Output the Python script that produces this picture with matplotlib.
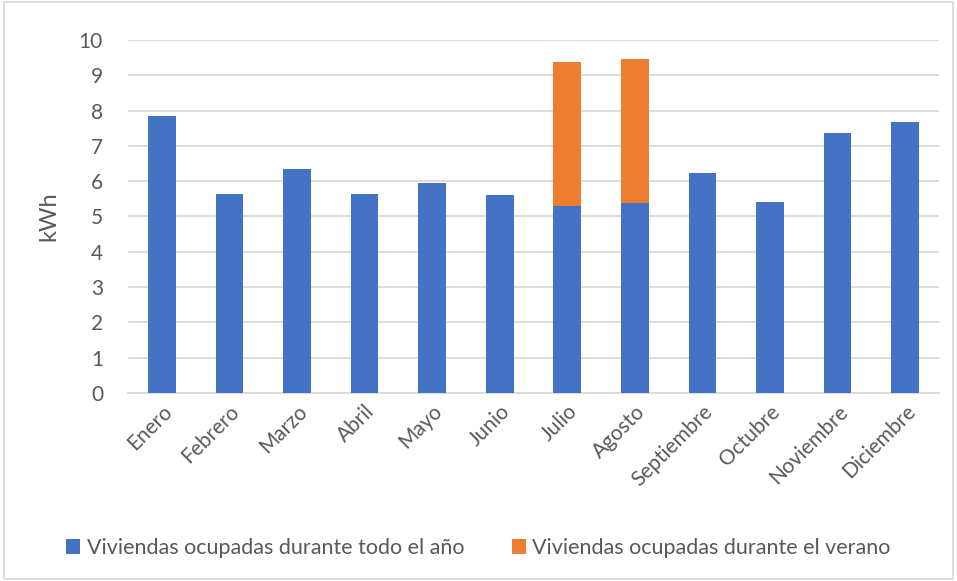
import numpy as np
import matplotlib as mpl
import matplotlib.pyplot as plt

meses = ["Enero", "Febrero", "Marzo", "Abril", "Mayo", "Junio", "Julio",
         "Agosto", "Septiembre", "Octubre", "Noviembre", "Diciembre"]
todo_el_anio = [7.85, 5.64, 6.35, 5.64, 5.95, 5.61, 5.30, 5.38, 6.23, 5.41, 7.37, 7.68]
verano = [0, 0, 0, 0, 0, 0, 4.08, 4.08, 0, 0, 0, 0]

c_text = "#595959"
c_grid = "#d9d9d9"
blue = "#4472c4"
orange = "#ed7d31"

mpl.rcParams["font.family"] = ["Lato", "DejaVu Sans"]

fig = plt.figure(figsize=(9.57, 5.81), dpi=100)
ax = fig.add_axes([128 / 957, 1 - 393 / 581, (939 - 128) / 957, (393 - 40) / 581])

x = np.arange(len(meses))
ax.bar(x, todo_el_anio, width=0.41, color=blue, zorder=3,
       label="Viviendas ocupadas durante todo el año")
ax.bar(x, verano, width=0.41, bottom=todo_el_anio, color=orange, zorder=3,
       label="Viviendas ocupadas durante el verano")

ax.set_xlim(-0.5, len(meses) - 0.5)
ax.set_ylim(0, 10)
ax.set_yticks(range(0, 11))
ax.yaxis.grid(True, color=c_grid, lw=1.3, zorder=0)
for s in ["top", "right", "left"]:
    ax.spines[s].set_visible(False)
ax.spines["bottom"].set_color(c_grid)
ax.spines["bottom"].set_linewidth(1.3)
ax.tick_params(axis="both", length=0, labelsize=15, colors=c_text)
ax.tick_params(axis="y", pad=18)
ax.tick_params(axis="x", pad=6)
ax.set_xticks(x)
ax.set_xticklabels(meses, rotation=45, ha="right", rotation_mode="anchor")
ax.set_ylabel("kWh", fontsize=17, color=c_text, labelpad=14)

fig.legend(loc="center", bbox_to_anchor=(0.5, 1 - 548 / 581), ncol=2, frameon=False,
           fontsize=15.5, labelcolor=c_text, handlelength=0.65, handleheight=0.65,
           handletextpad=0.3, columnspacing=2.2)

fig.add_artist(mpl.patches.Rectangle((0.004, 0.004), 0.992, 0.992, transform=fig.transFigure,
                                     fill=False, edgecolor=c_grid, lw=1.2))

fig.savefig("out.png", dpi=100)
